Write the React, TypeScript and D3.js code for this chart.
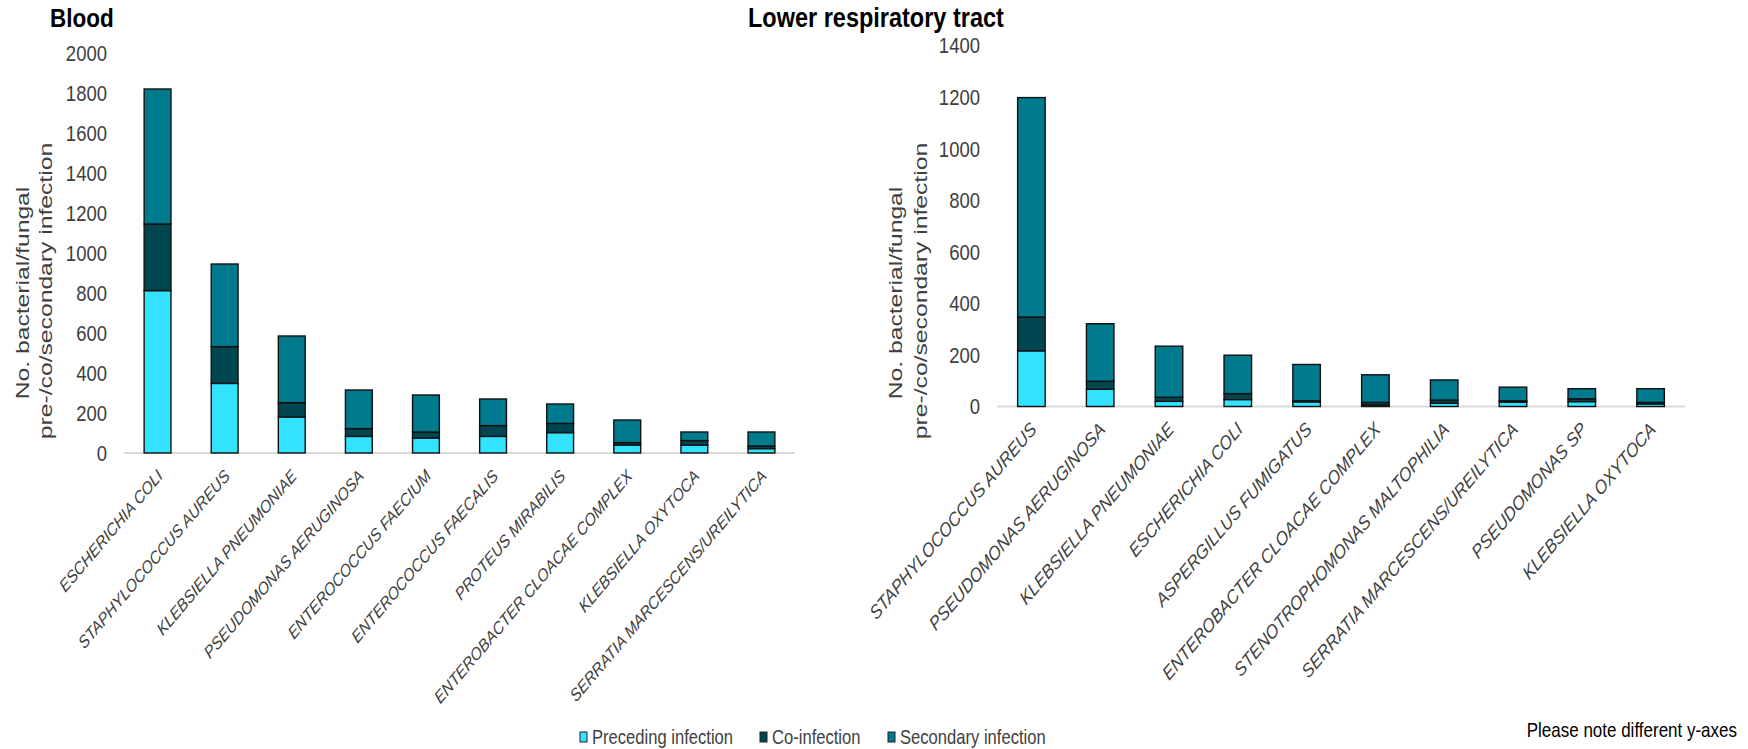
import React from "react";
import * as d3 from "d3";

const bloodCategories = [
  "ESCHERICHIA COLI",
  "STAPHYLOCOCCUS AUREUS",
  "KLEBSIELLA PNEUMONIAE",
  "PSEUDOMONAS AERUGINOSA",
  "ENTEROCOCCUS FAECIUM",
  "ENTEROCOCCUS FAECALIS",
  "PROTEUS MIRABILIS",
  "ENTEROBACTER CLOACAE COMPLEX",
  "KLEBSIELLA OXYTOCA",
  "SERRATIA MARCESCENS/UREILYTICA",
];
const bloodPreceding = [812, 348, 180, 83, 75, 83, 102, 40, 40, 22];
const bloodCo = [333, 184, 72, 39, 30, 54, 46, 12, 22, 13];
const bloodSecondary = [675, 413, 333, 193, 185, 133, 97, 113, 43, 70];
const bloodTicks = [0, 200, 400, 600, 800, 1000, 1200, 1400, 1600, 1800, 2000];

const lrtCategories = [
  "STAPHYLOCOCCUS AUREUS",
  "PSEUDOMONAS AERUGINOSA",
  "KLEBSIELLA PNEUMONIAE",
  "ESCHERICHIA COLI",
  "ASPERGILLUS FUMIGATUS",
  "ENTEROBACTER CLOACAE COMPLEX",
  "STENOTROPHOMONAS MALTOPHILIA",
  "SERRATIA MARCESCENS/UREILYTICA",
  "PSEUDOMONAS SP",
  "KLEBSIELLA OXYTOCA",
];
const lrtPreceding = [216, 67, 20, 27, 18, 6, 13, 17, 19, 10];
const lrtCo = [131, 31, 16, 23, 4, 10, 12, 5, 11, 6];
const lrtSecondary = [851, 223, 198, 149, 141, 107, 78, 53, 39, 53];
const lrtTicks = [0, 200, 400, 600, 800, 1000, 1200, 1400];

const seriesNames = ["Preceding infection", "Co-infection", "Secondary infection"];
const seriesColors = ["#33E2FF", "#004650", "#007B8E"];

const FONT = "'Liberation Sans', Arial, sans-serif";
const S = 1.18; // vertical text stretch

type PanelProps = {
  cats: string[];
  pre: number[];
  co: number[];
  sec: number[];
  ticks: number[];
  yMax: number;
  xRange: [number, number];
  yRange: [number, number];
  tickRight: number;
  title: string;
  titleX: number;
  titleSize: number;
  yTitleX: [number, number];
  labelSize: number;
};

function Panel(p: PanelProps) {
  const x = d3.scaleBand<string>().domain(p.cats).range(p.xRange).paddingInner(0.6).paddingOuter(0.3);
  const y = d3.scaleLinear().domain([0, p.yMax]).range(p.yRange);
  const rows = p.cats.map((c, i) => ({ cat: c, pre: p.pre[i], co: p.co[i], sec: p.sec[i] }));
  const stack = d3.stack<any>().keys(["pre", "co", "sec"])(rows);
  const base = y(0);
  return (
    <g>
      <text transform={`translate(${p.titleX},27) scale(1,${S})`} fontFamily={FONT} fontWeight="bold"
        fontSize={p.titleSize} fill="#000">
        {p.title}
      </text>
      {p.ticks.map((t) => (
        <text key={t} transform={`translate(${p.tickRight},${y(t)}) scale(1,${S})`} textAnchor="end" dy="0.36em"
          fontFamily={FONT} fontSize={18.5} fill="#404040">
          {t}
        </text>
      ))}
      <g transform={`translate(${p.yTitleX[0]},293) scale(1,1.3) rotate(-90)`}>
        <text textAnchor="middle" dy="0.35em" fontFamily={FONT} fontSize={19} fill="#404040">No. bacterial/fungal</text>
      </g>
      <g transform={`translate(${p.yTitleX[1]},291) scale(1,1.3) rotate(-90)`}>
        <text textAnchor="middle" dy="0.35em" fontFamily={FONT} fontSize={19} fill="#404040">pre-/co/secondary infection</text>
      </g>
      <line x1={p.xRange[0]} x2={p.xRange[1]} y1={base} y2={base} stroke="#d9d9d9" strokeWidth={2} />
      {stack.map((layer, li) => (
        <g key={li}>
          {layer.map((d: any, i: number) => (
            <rect key={i} x={x(p.cats[i])} width={x.bandwidth()} y={y(d[1])} height={Math.max(0, y(d[0]) - y(d[1]))}
              fill={seriesColors[li]} stroke="#111" strokeWidth={1.4} />
          ))}
        </g>
      ))}
      {p.cats.map((c) => {
        const ax = (x(c) as number) + x.bandwidth() / 2 + 6;
        const ay = base + 24;
        return (
          <text key={c} transform={`translate(${ax},${ay}) scale(1,${S}) rotate(-45)`} textAnchor="end"
            fontFamily={FONT} fontStyle="italic" fontSize={p.labelSize} fill="#404040">
            {c}
          </text>
        );
      })}
    </g>
  );
}

export default function App() {
  const legendX = [580, 760, 888];
  return (
    <svg width={1748} height={749} style={{ position: "absolute", left: 0, top: 0, background: "#fff" }}>
      <rect width={1748} height={749} fill="#fff" />
      <Panel cats={bloodCategories} pre={bloodPreceding} co={bloodCo} sec={bloodSecondary} ticks={bloodTicks}
        yMax={2000} xRange={[124, 795]} yRange={[453, 53]} tickRight={107} title="Blood" titleX={50} titleSize={22.5}
        yTitleX={[22, 45]} labelSize={14.8} />
      <Panel cats={lrtCategories} pre={lrtPreceding} co={lrtCo} sec={lrtSecondary} ticks={lrtTicks}
        yMax={1400} xRange={[997, 1685]} yRange={[406.5, 45.5]} tickRight={980} title="Lower respiratory tract"
        titleX={748} titleSize={23.5} yTitleX={[895, 920]} labelSize={16.3} />
      {seriesNames.map((n, i) => (
        <g key={n}>
          <rect x={legendX[i]} y={732} width={7} height={10} fill={seriesColors[i]} stroke="#222" strokeWidth={1} />
          <text transform={`translate(${legendX[i] + 12},737) scale(1,${S})`} dy="0.36em" fontFamily={FONT}
            fontSize={16.6} fill="#404040">{n}</text>
        </g>
      ))}
      <text transform={`translate(1737,730) scale(1,${S})`} textAnchor="end" dy="0.36em" fontFamily={FONT}
        fontSize={17} fill="#000">Please note different y-axes</text>
    </svg>
  );
}
